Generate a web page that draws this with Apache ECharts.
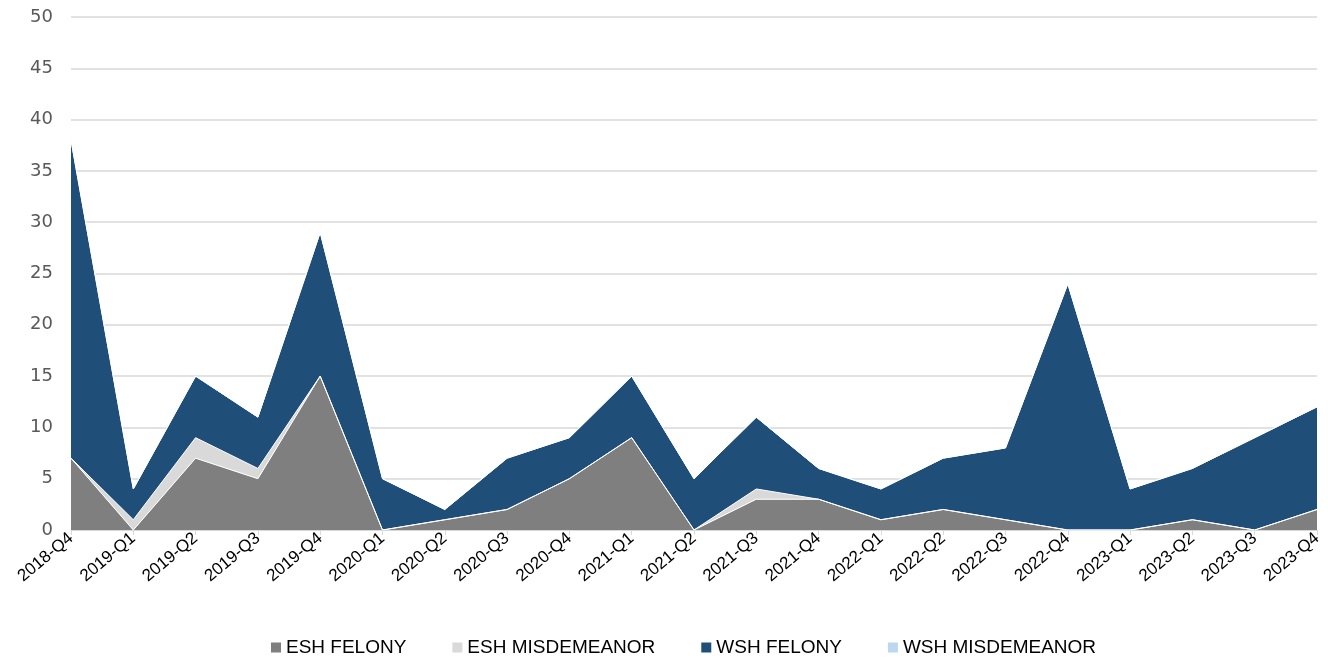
<!DOCTYPE html>
<html>
<head>
<meta charset="utf-8">
<script src="https://cdn.jsdelivr.net/npm/echarts@6/dist/echarts.min.js"></script>
<style>html,body{margin:0;padding:0;background:#fff}#c{width:1328px;height:660px}</style>
</head>
<body>
<div id="c"></div>
<script>
const categories = ['2018-Q4','2019-Q1','2019-Q2','2019-Q3','2019-Q4','2020-Q1','2020-Q2','2020-Q3','2020-Q4','2021-Q1','2021-Q2','2021-Q3','2021-Q4','2022-Q1','2022-Q2','2022-Q3','2022-Q4','2023-Q1','2023-Q2','2023-Q3','2023-Q4'];
const eshFelony      = [7,0,7,5,15,0,1,2,5,9,0,3,3,1,2,1,0,0,1,0,2];
const eshMisdemeanor = [0,1,2,1,0,0,0,0,0,0,0,1,0,0,0,0,0,0,0,0,0];
const wshFelony      = [31,3,6,5,14,5,1,5,4,6,5,7,3,3,5,7,24,4,5,9,10];
const wshMisdemeanor = [0,0,0,0,0,0,0,0,0,0,0,0,0,0,0,0,0,0,0,0,0];
const yTicks = [0,5,10,15,20,25,30,35,40,45,50];

const names = ['ESH FELONY','ESH MISDEMEANOR','WSH FELONY','WSH MISDEMEANOR'];
const colors = ['#7f7f7f','#d9d9d9','#1f4e79','#bdd7ee'];
const dataSets = [eshFelony, eshMisdemeanor, wshFelony, wshMisdemeanor];

const chart = echarts.init(document.getElementById('c'), null, {renderer:'canvas'});
chart.setOption({
  animation: false,
  color: colors,
  grid: {left: 71, right: 11, top: 17, bottom: 130, containLabel: false},
  legend: {
    top: 633, left: 266,
    itemWidth: 10, itemHeight: 10, itemGap: 46,
    icon: 'rect',
    textStyle: {fontFamily: "'Liberation Sans',sans-serif", fontSize: 19, color: '#000'},
    data: names
  },
  xAxis: {
    type: 'category', data: categories, boundaryGap: false,
    axisLine: {lineStyle: {color: '#d9d9d9', width: 1}},
    axisTick: {show: true, alignWithLabel: true, length: 5, lineStyle: {color: '#d9d9d9'}},
    axisLabel: {rotate: 40, interval: 0, color: '#000', fontSize: 17, margin: 6,
      fontFamily: "'Liberation Sans',sans-serif"}
  },
  yAxis: {
    type: 'value', min: 0, max: 50, interval: 5,
    axisLine: {show: false}, axisTick: {show: false},
    splitLine: {lineStyle: {color: '#d9d9d9', width: 1.5}},
    axisLabel: {color: '#595959', fontSize: 18, margin: 18,
      fontFamily: "'DejaVu Sans',sans-serif",
      formatter: v => yTicks.includes(v) ? String(v) : ''}
  },
  series: names.map((n, i) => ({
    name: n, type: 'line', stack: 'total', data: dataSets[i],
    showSymbol: false, symbol: 'none',
    lineStyle: {color: '#ffffff', width: 1},
    itemStyle: {color: colors[i]},
    areaStyle: {color: colors[i], opacity: 1},
    emphasis: {disabled: true}
  }))
});
</script>
</body>
</html>
